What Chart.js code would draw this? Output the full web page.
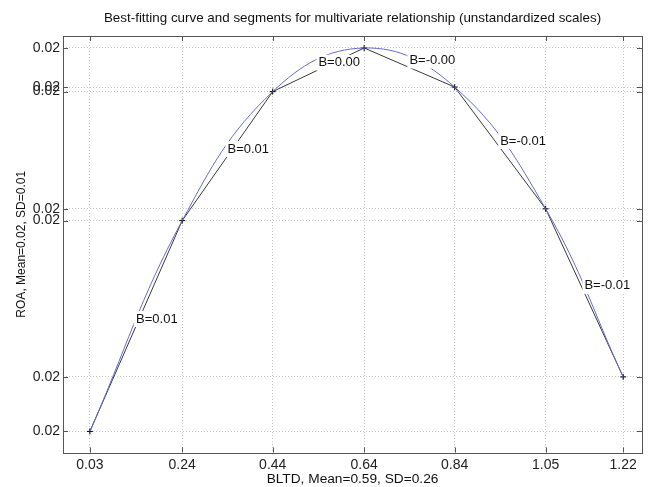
<!DOCTYPE html>
<html>
<head>
<meta charset="utf-8">
<script src="https://cdn.jsdelivr.net/npm/chart.js@4/dist/chart.umd.min.js"></script>
<style>
  html, body { margin: 0; padding: 0; background: #fff; }
</style>
</head>
<body>
<canvas id="chart" width="649" height="487"></canvas>
<script>
// data
const bltd = [0.03, 0.236, 0.438, 0.642, 0.844, 1.047, 1.22];
const roa = [0.01928, 0.02160, 0.02302, 0.02350, 0.02307, 0.02173, 0.01988];
const slopeLabels = ['B=0.01', 'B=0.01', 'B=0.00', 'B=-0.00', 'B=-0.01', 'B=-0.01'];

const chartTitle = 'Best-fitting curve and segments for multivariate relationship (unstandardized scales)';
const xTitle = 'BLTD, Mean=0.59, SD=0.26';
const yTitle = 'ROA, Mean=0.02, SD=0.01';

const FONT = '"Liberation Sans", Arial, sans-serif';
const pts = bltd.map((v, i) => ({ x: v, y: roa[i] }));

// box, inward ticks, title and segment labels, matlab style
const boxPlugin = {
    id: 'box',
    afterDatasetsDraw(chart) {
        const { ctx, scales: { x, y } } = chart;
        ctx.save();
        ctx.font = '13px ' + FONT;
        ctx.textBaseline = 'middle';
        slopeLabels.forEach((t, i) => {
            const mx = (x.getPixelForValue(bltd[i]) + x.getPixelForValue(bltd[i + 1])) / 2;
            const my = (y.getPixelForValue(roa[i]) + y.getPixelForValue(roa[i + 1])) / 2 - 7;
            const w = ctx.measureText(t).width;
            ctx.fillStyle = '#fff';
            ctx.fillRect(mx - 2, my - 8, w + 4, 16);
            ctx.fillStyle = '#111';
            ctx.fillText(t, mx, my);
        });
        ctx.restore();
    },
    afterDraw(chart) {
        const { ctx, chartArea: a, scales: { x, y } } = chart;
        ctx.save();
        ctx.font = '13.4px ' + FONT;
        ctx.fillStyle = '#111';
        ctx.textAlign = 'center';
        ctx.textBaseline = 'middle';
        ctx.fillText(chartTitle, (a.left + a.right) / 2, 18);

        ctx.strokeStyle = '#555';
        ctx.lineWidth = 1;
        ctx.strokeRect(Math.round(a.left) + 0.5, Math.round(a.top) + 0.5,
            Math.round(a.right - a.left), Math.round(a.bottom - a.top));
        ctx.beginPath();
        bltd.forEach((v) => {
            const px = Math.round(x.getPixelForValue(v)) + 0.5;
            ctx.moveTo(px, a.top); ctx.lineTo(px, a.top + 5);
            ctx.moveTo(px, a.bottom); ctx.lineTo(px, a.bottom - 5);
        });
        roa.forEach((v) => {
            const py = Math.round(y.getPixelForValue(v)) + 0.5;
            ctx.moveTo(a.left, py); ctx.lineTo(a.left + 5, py);
            ctx.moveTo(a.right, py); ctx.lineTo(a.right - 5, py);
        });
        ctx.stroke();
        ctx.restore();
    }
};

new Chart(document.getElementById('chart'), {
    type: 'scatter',
    data: {
        datasets: [
            {
                label: 'curve',
                data: pts,
                showLine: true,
                borderColor: '#6a6ad2',
                borderWidth: 1,
                tension: 0.4,
                pointRadius: 0,
                fill: false,
            },
            {
                label: 'segments',
                data: pts,
                showLine: true,
                borderColor: '#3a3a3a',
                borderWidth: 1,
                tension: 0,
                pointStyle: 'cross',
                pointRadius: 3,
                pointBorderColor: '#000',
                pointBorderWidth: 1,
                fill: false,
            },
        ],
    },
    options: {
        responsive: false,
        animation: false,
        devicePixelRatio: 1,
        layout: { padding: { left: 0, right: 7, top: 36, bottom: 0 } },
        plugins: {
            legend: { display: false },
            tooltip: { enabled: false },
            title: { display: false },
        },
        scales: {
            x: {
                type: 'linear',
                min: -0.03,
                max: 1.262,
                afterBuildTicks: (s) => { s.ticks = bltd.map((v) => ({ value: v })); },
                afterFit: (s) => { s.height = 34.5; },
                ticks: {
                    autoSkip: false,
                    maxRotation: 0,
                    padding: 4,
                    color: '#222',
                    font: { family: FONT, size: 14 },
                    callback: (v) => v.toFixed(2),
                },
                grid: { color: '#c4c4c4', drawTicks: false },
                border: { display: false, dash: [1, 2] },
                title: {
                    display: true,
                    text: xTitle,
                    color: '#111',
                    font: { family: FONT, size: 13.7 },
                    padding: { top: 0, bottom: 0 },
                },
            },
            y: {
                type: 'linear',
                min: 0.019048,
                max: 0.023632,
                afterBuildTicks: (s) => { s.ticks = roa.slice().sort((a, b) => a - b).map((v) => ({ value: v })); },
                afterFit: (s) => { s.width = 63; },
                ticks: {
                    autoSkip: false,
                    padding: 3,
                    color: '#222',
                    font: { family: FONT, size: 14 },
                    callback: (v) => v.toFixed(2),
                },
                grid: { color: '#c4c4c4', drawTicks: false },
                border: { display: false, dash: [1, 2] },
                title: {
                    display: true,
                    text: yTitle,
                    color: '#111',
                    font: { family: FONT, size: 12 },
                    padding: { top: 14, bottom: 0 },
                },
            },
        },
    },
    plugins: [boxPlugin],
});
</script>
</body>
</html>
